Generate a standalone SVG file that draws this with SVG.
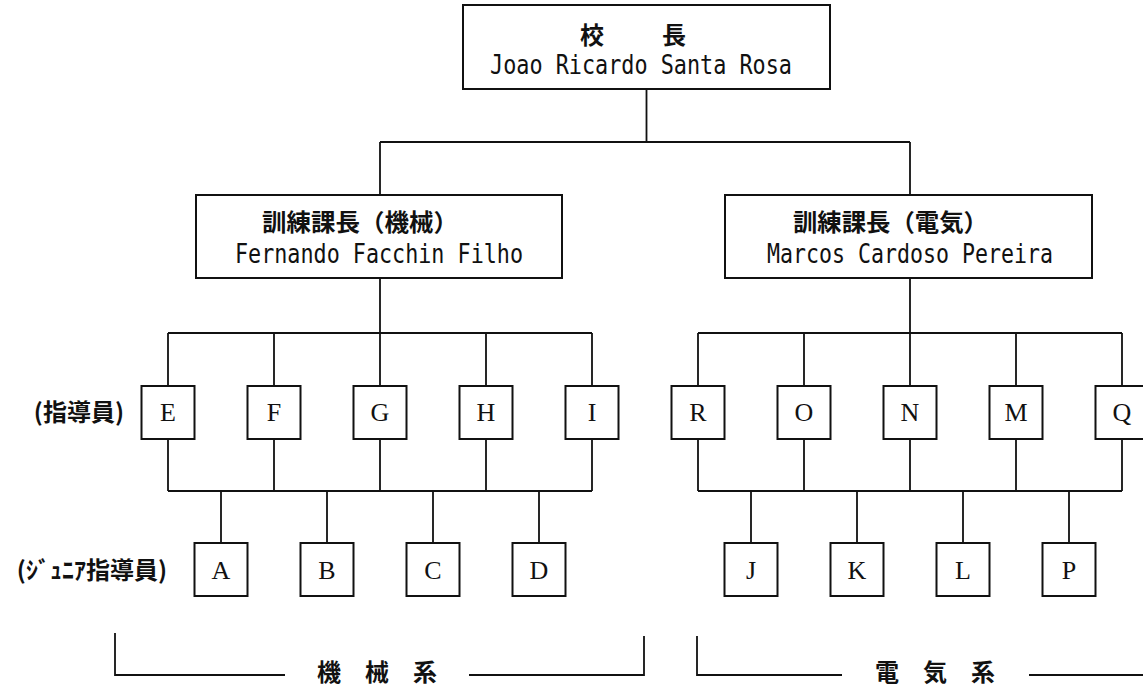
<svg xmlns="http://www.w3.org/2000/svg" width="1143" height="692" viewBox="0 0 1143 692">
<style>
.bx{fill:#fff;stroke:#111;stroke-width:2}
.ln{fill:none;stroke:#111;stroke-width:1.8}
.jp{font-family:"Noto Sans CJK JP","Noto Sans CJK SC",sans-serif;font-size:24px;fill:#111;font-weight:bold}
.en{font-family:"DejaVu Sans Mono","Liberation Mono",monospace;font-size:26px;fill:#111}
.lt{font-family:"Liberation Serif",serif;font-size:26px;fill:#111;text-anchor:middle}
.lb{font-family:"Noto Sans CJK JP","Noto Sans CJK SC",sans-serif;font-size:24px;fill:#111;font-weight:bold}
</style>
<rect width="1143" height="692" fill="#fff"/>
<g id="connectors">
<path class="ln" d="M646.5,89V142M380,142H910M380,142V195M910,142V195"/>
<path class="ln" d="M380,278V333M168,333H592M168,333V386M274,333V386M380,333V386M486,333V386M592,333V386"/>
<path class="ln" d="M910,278V333M698,333H1122M698,333V386M804,333V386M910,333V386M1016,333V386M1122,333V386"/>
<path class="ln" d="M168,439V491M274,439V491M380,439V491M486,439V491M592,439V491M168,491H592"/>
<path class="ln" d="M698,439V491M804,439V491M910,439V491M1016,439V491M1122,439V491M698,491H1122"/>
<path class="ln" d="M221,491V543M327,491V543M433,491V543M539,491V543M751,491V543M857,491V543M963,491V543M1069,491V543"/>
</g>
<g id="principal">
<rect class="bx" x="463" y="5" width="367" height="84"/>
<text class="jp"><tspan x="580" y="44">校</tspan><tspan x="662" y="44">長</tspan></text>
<text class="en" x="490" y="74" textLength="302" lengthAdjust="spacingAndGlyphs">Joao Ricardo Santa Rosa</text>
</g>
<g id="mech-head">
<rect class="bx" x="196" y="195" width="366" height="83"/>
<text class="jp" x="262" y="231" textLength="196" lengthAdjust="spacingAndGlyphs">訓練課長（機械）</text>
<text class="en" x="235" y="263" textLength="288" lengthAdjust="spacingAndGlyphs">Fernando Facchin Filho</text>
</g>
<g id="elec-head">
<rect class="bx" x="725" y="195" width="367" height="83"/>
<text class="jp" x="793" y="231" textLength="195" lengthAdjust="spacingAndGlyphs">訓練課長（電気）</text>
<text class="en" x="767" y="263" textLength="286" lengthAdjust="spacingAndGlyphs">Marcos Cardoso Pereira</text>
</g>
<g id="label-instructor"><text class="lb" x="124" y="421" text-anchor="end">(指導員)</text></g>
<g id="label-junior"><text class="lb" x="167" y="579" text-anchor="end">(ｼﾞｭﾆｱ指導員)</text></g>
<g id="node-E"><rect class="bx" x="141.5" y="386" width="53" height="53"/><text class="lt" x="168" y="421">E</text></g>
<g id="node-F"><rect class="bx" x="247.5" y="386" width="53" height="53"/><text class="lt" x="274" y="421">F</text></g>
<g id="node-G"><rect class="bx" x="353.5" y="386" width="53" height="53"/><text class="lt" x="380" y="421">G</text></g>
<g id="node-H"><rect class="bx" x="459.5" y="386" width="53" height="53"/><text class="lt" x="486" y="421">H</text></g>
<g id="node-I"><rect class="bx" x="565.5" y="386" width="53" height="53"/><text class="lt" x="592" y="421">I</text></g>
<g id="node-R"><rect class="bx" x="671.5" y="386" width="53" height="53"/><text class="lt" x="698" y="421">R</text></g>
<g id="node-O"><rect class="bx" x="777.5" y="386" width="53" height="53"/><text class="lt" x="804" y="421">O</text></g>
<g id="node-N"><rect class="bx" x="883.5" y="386" width="53" height="53"/><text class="lt" x="910" y="421">N</text></g>
<g id="node-M"><rect class="bx" x="989.5" y="386" width="53" height="53"/><text class="lt" x="1016" y="421">M</text></g>
<g id="node-Q"><rect class="bx" x="1095.5" y="386" width="53" height="53"/><text class="lt" x="1122" y="421">Q</text></g>
<g id="node-A"><rect class="bx" x="194.5" y="543" width="53" height="53"/><text class="lt" x="221" y="579">A</text></g>
<g id="node-B"><rect class="bx" x="300.5" y="543" width="53" height="53"/><text class="lt" x="327" y="579">B</text></g>
<g id="node-C"><rect class="bx" x="406.5" y="543" width="53" height="53"/><text class="lt" x="433" y="579">C</text></g>
<g id="node-D"><rect class="bx" x="512.5" y="543" width="53" height="53"/><text class="lt" x="539" y="579">D</text></g>
<g id="node-J"><rect class="bx" x="724.5" y="543" width="53" height="53"/><text class="lt" x="751" y="579">J</text></g>
<g id="node-K"><rect class="bx" x="830.5" y="543" width="53" height="53"/><text class="lt" x="857" y="579">K</text></g>
<g id="node-L"><rect class="bx" x="936.5" y="543" width="53" height="53"/><text class="lt" x="963" y="579">L</text></g>
<g id="node-P"><rect class="bx" x="1042.5" y="543" width="53" height="53"/><text class="lt" x="1069" y="579">P</text></g>
<g id="group-mech">
<path class="ln" d="M115,633V675H285M469,675H644V636"/>
<text class="lb" x="377" y="681" text-anchor="middle">機　械　系</text>
</g>
<g id="group-elec">
<path class="ln" d="M697,636V675H842M1029,675H1143"/>
<text class="lb" x="935" y="681" text-anchor="middle">電　気　系</text>
</g>
</svg>
